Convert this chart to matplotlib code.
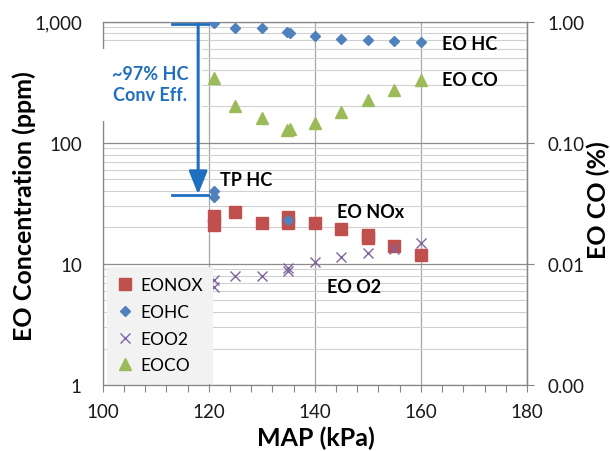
import numpy as np
import matplotlib
matplotlib.use('Agg')
import matplotlib.pyplot as plt
from matplotlib.ticker import FixedLocator, FixedFormatter, MultipleLocator, LogLocator, NullFormatter
from matplotlib.patches import Rectangle
from matplotlib.lines import Line2D

plt.rcParams['font.family'] = ['Lato', 'DejaVu Sans']

# engine-out data
nox_map = [121, 121, 125, 130, 135, 135, 140, 145, 150, 150, 155, 160]
nox_ppm = [25, 21, 27, 21.9, 24.5, 21.9, 21.6, 19.3, 17.3, 16.4, 14.1, 11.9]

hc_map = [121, 121, 121, 125, 130, 134.8, 135.3, 135, 140, 145, 150, 155, 160]
hc_ppm = [975, 40, 36, 883, 883, 818, 805, 23, 758, 721, 703, 694, 676]

o2_map = [121, 121, 125, 130, 135, 135, 140, 145, 150, 155, 160]
o2_val = [7.4, 6.5, 7.9, 8.0, 9.3, 8.8, 10.3, 11.3, 12.2, 13.2, 14.8]

co_map = [121, 125, 130, 134.8, 135.3, 140, 145, 150, 155, 160]
co_pct = [0.342, 0.201, 0.160, 0.127, 0.130, 0.147, 0.180, 0.227, 0.275, 0.327]

left_ticks = [1, 10, 100, 1000]
left_labels = ['1', '10', '100', '1,000']
right_ticks = [0.001, 0.01, 0.1, 1]
right_labels = ['0.00', '0.01', '0.10', '1.00']

c_nox = '#c0504d'
c_hc = '#4f81bd'
c_o2 = '#8064a2'
c_co = '#9bbb59'
c_note = '#1f6fc0'
spine_c = '#868686'

fig = plt.figure(figsize=(6.1, 4.52), dpi=100)
ax = fig.add_axes([102.7 / 610, 1 - 386 / 452, 424.3 / 610, 363.3 / 452])
ax.set_yscale('log')
ax.set_xlim(100, 180)
ax.set_ylim(1, 1000)

ax.xaxis.set_major_locator(MultipleLocator(20))
ax.xaxis.set_minor_locator(MultipleLocator(4))
ax.yaxis.set_major_locator(FixedLocator(left_ticks))
ax.yaxis.set_major_formatter(FixedFormatter(left_labels))
ax.yaxis.set_minor_locator(LogLocator(base=10, subs=np.arange(2, 10)))
ax.yaxis.set_minor_formatter(NullFormatter())

ax.grid(True, which='major', axis='y', color='#8c8c8c', lw=0.9)
ax.grid(True, which='minor', axis='y', color='#d0d0d0', lw=0.8)
ax.grid(True, which='major', axis='x', color='#a6a6a6', lw=0.9)

for s in ax.spines.values():
    s.set_color(spine_c)
    s.set_linewidth(0.9)

ax.tick_params(axis='x', which='both', direction='out', length=5, width=0.8,
               color=spine_c, labelsize=13.5, pad=8, labelcolor='#1a1a1a')
ax.tick_params(axis='y', which='both', length=0, labelsize=13.5, pad=15,
               labelcolor='#1a1a1a')

ax.plot(nox_map, nox_ppm, ls='none', marker='s', ms=8, color=c_nox, zorder=4)
ax.plot(hc_map, hc_ppm, ls='none', marker='D', ms=5.3, color=c_hc, zorder=4)
ax.plot(o2_map, o2_val, ls='none', marker='x', ms=7.5, mew=1, color=c_o2, zorder=4)

ax2 = ax.twinx()
ax2.set_yscale('log')
ax2.set_ylim(0.001, 1)
ax2.yaxis.set_major_locator(FixedLocator(right_ticks))
ax2.yaxis.set_major_formatter(FixedFormatter(right_labels))
ax2.yaxis.set_minor_locator(FixedLocator([]))
for side in ['left', 'top', 'bottom']:
    ax2.spines[side].set_visible(False)
ax2.spines['right'].set_color(spine_c)
ax2.spines['right'].set_linewidth(0.9)
ax2.tick_params(axis='y', which='major', direction='out', length=5, width=0.8,
                color=spine_c, labelsize=13.5, pad=10, labelcolor='#1a1a1a')
ax2.plot(co_map, co_pct, ls='none', marker='^', ms=9, color=c_co, zorder=4)

# white box behind the efficiency note
ax2.add_patch(Rectangle((99.5, 0.151), 19.3, 0.445, facecolor='white',
                        edgecolor='none', clip_on=False, zorder=3))
ax2.text(108.9, 0.306, '~97% HC\nConv Eff.', color=c_note, fontsize=13,
         fontweight='bold', ha='center', va='center', linespacing=1.35,
         zorder=5, transform=ax2.transData)

ax.plot([113.1, 119.9], [960, 960], color=c_note, lw=2, zorder=6, clip_on=False)
ax.plot([113.1, 119.9], [37, 37], color=c_note, lw=2, zorder=6, clip_on=False)
ax2.annotate('', xy=(118, 0.0375), xytext=(118, 0.96),
             arrowprops=dict(arrowstyle='-|>,head_width=0.28,head_length=0.7',
                             mutation_scale=20, lw=2.2, color=c_note,
                             shrinkA=0, shrinkB=0), zorder=6)

ax.text(122.1, 49.3, 'TP HC', fontsize=13, fontweight='bold', va='center', zorder=6)
ax.text(164.0, 655, 'EO HC', fontsize=13, fontweight='bold', va='center', zorder=6)
ax.text(164.0, 336, 'EO CO', fontsize=13, fontweight='bold', va='center', zorder=6)
ax.text(144.2, 27.3, 'EO NOx', fontsize=13, fontweight='bold', va='center', zorder=6)
ax.text(142.3, 6.45, 'EO O2', fontsize=13, fontweight='bold', va='center', zorder=6)

handles = [
    Line2D([], [], ls='none', marker='s', ms=8, color=c_nox),
    Line2D([], [], ls='none', marker='D', ms=5.3, color=c_hc),
    Line2D([], [], ls='none', marker='x', ms=7.5, mew=1, color=c_o2),
    Line2D([], [], ls='none', marker='^', ms=9, color=c_co),
]
leg = ax2.legend(handles, ['EONOX', 'EOHC', 'EOO2', 'EOCO'], loc='lower left',
                 bbox_to_anchor=(0.010, 0.003), borderaxespad=0, fontsize=12.5,
                 frameon=True, fancybox=False, framealpha=1, handlelength=0.9,
                 handletextpad=0.4, labelspacing=0.62, borderpad=0.6)
leg.get_frame().set_facecolor('#f2f2f2')
leg.get_frame().set_edgecolor('none')
leg.set_zorder(7)

fig.text(24 / 610, 1 - 206 / 452, 'EO Concentration (ppm)', rotation=90,
         fontsize=18, fontweight='bold', ha='center', va='center')
fig.text(598 / 610, 1 - 200 / 452, 'EO CO (%)', rotation=90,
         fontsize=18, fontweight='bold', ha='center', va='center')
fig.text(316 / 610, 6 / 452, 'MAP (kPa)', fontsize=18, fontweight='bold',
         ha='center', va='baseline')

fig.savefig('out.png', dpi=100)
